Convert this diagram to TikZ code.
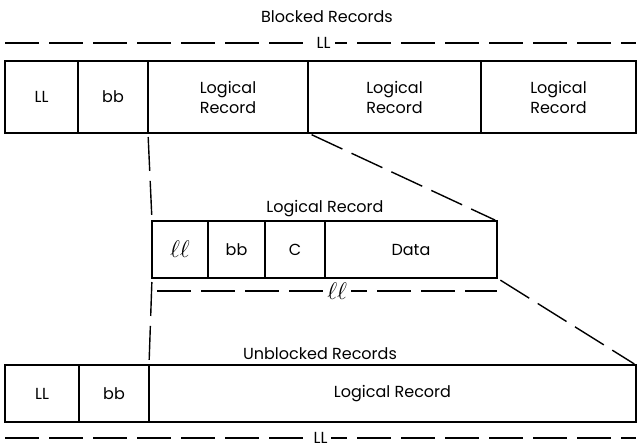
\documentclass[tikz,border=0pt]{standalone}
\usepackage{fontspec}
\setmainfont{Poppins}
\usepackage{tikz}
\usetikzlibrary{positioning,calc}

\begin{document}
\begin{tikzpicture}[x=0.5pt, y=-0.5pt,
  cell/.style={rectangle, draw, line width=0.8pt, outer sep=0pt, inner sep=0pt, align=center, font=\fontsize{8}{10}\selectfont},
  toprow/.style={cell, minimum height=36pt},
  lowrow/.style={cell, minimum height=28.5pt},
  dim/.style={line width=0.7pt, dash pattern=on 17pt off 5pt},
  proj/.style={line width=0.7pt, dash pattern=on 17pt off 5pt, shorten <=2pt, shorten >=1pt},
  lbl/.style={font=\fontsize{8}{9}\selectfont, fill=white, inner xsep=2pt, inner ysep=0pt},
  ttl/.style={font=\fontsize{8}{9}\selectfont},
  node distance=0pt
]
  \useasboundingbox (0,0) rectangle (637,447);

  % blocked records
  \node[toprow, minimum width=36.5pt, anchor=north west] (TLL) at (5,61) {LL};
  \node[toprow, minimum width=35pt, right=of TLL] (Tbb) {bb};
  \node[toprow, minimum width=80pt, right=of Tbb] (TRec1) {Logical\\Record};
  \node[toprow, minimum width=86.5pt, right=of TRec1] (TRec2) {Logical\\Record};
  \node[toprow, minimum width=77.5pt, right=of TRec2] (TRec3) {Logical\\Record};
  \node[ttl] (blockedttl) at (327,17) {Blocked Records};
  \draw[dim] ([yshift=9pt]TLL.north west) -- ([yshift=9pt]TRec3.north east) node[lbl, pos=0.505] {LL};

  % logical record
  \node[lowrow, minimum width=28pt, anchor=north west] (Mll) at (152,221) {\large$\ell\ell$};
  \node[lowrow, minimum width=28.5pt, right=of Mll] (Mbb) {bb};
  \node[lowrow, minimum width=30pt, right=of Mbb] (MC) {C};
  \node[lowrow, minimum width=86pt, right=of MC] (MData) {Data};
  \node[ttl] (logicalttl) at (325,209) {Logical Record};
  \draw[dim] ([xshift=2.5pt, yshift=-6.5pt]Mll.south west) -- ([yshift=-6.5pt]MData.south east) node[lbl, pos=0.53] {\large$\ell\ell$};

  % unblocked records
  \node[lowrow, minimum width=37pt, anchor=north west] (BLL) at (5,365) {LL};
  \node[lowrow, minimum width=35pt, right=of BLL] (Bbb) {bb};
  \node[lowrow, minimum width=243.5pt, right=of Bbb] (BRec) {Logical Record};
  \node[ttl] (unblockedttl) at (320,354) {Unblocked Records};
  \draw[dim] ([yshift=-8pt]BLL.south west) -- ([yshift=-8pt]BRec.south east) node[lbl, pos=0.5] {LL};

  % projection lines
  \draw[proj] (Tbb.south east) -- (Mll.north west);
  \draw[proj] (Mll.south west) -- (Bbb.north east);
  \draw[proj] (TRec1.south east) -- (MData.north east);
  \draw[proj] (MData.south east) -- (BRec.north east);
\end{tikzpicture}
\end{document}
